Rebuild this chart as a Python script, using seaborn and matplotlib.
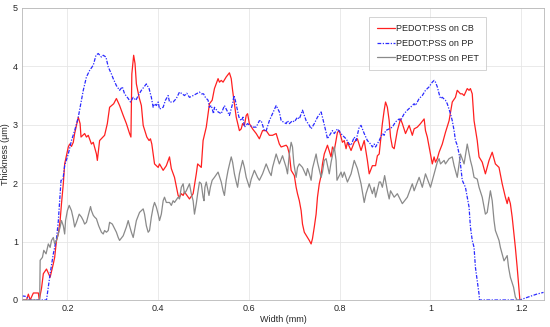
import numpy as np
import pandas as pd
import seaborn as sns
import matplotlib
matplotlib.use("Agg")
import matplotlib.pyplot as plt

# thickness profiles (x in mm, y in um)
cb_x = [0.100, 0.103, 0.110, 0.114, 0.118, 0.125, 0.136, 0.138, 0.143, 0.147, 0.154, 0.162, 0.169, 0.172,
        0.176, 0.180, 0.184, 0.187, 0.191, 0.194, 0.202, 0.205, 0.209, 0.213, 0.216, 0.224, 0.228, 0.230,
        0.238, 0.242, 0.246, 0.253, 0.257, 0.264, 0.266, 0.271, 0.282, 0.288, 0.293, 0.302, 0.308, 0.315,
        0.323, 0.330, 0.337, 0.340, 0.342, 0.346, 0.349, 0.352, 0.358, 0.363, 0.367, 0.375, 0.380, 0.383,
        0.386, 0.392, 0.400, 0.403, 0.411, 0.418, 0.425, 0.429, 0.436, 0.444, 0.447, 0.451, 0.455, 0.458,
        0.469, 0.477, 0.484, 0.487, 0.491, 0.495, 0.499, 0.506, 0.510, 0.513, 0.519, 0.524, 0.532, 0.535,
        0.539, 0.543, 0.550, 0.557, 0.561, 0.564, 0.568, 0.572, 0.579, 0.583, 0.586, 0.590, 0.594, 0.597,
        0.601, 0.608, 0.616, 0.623, 0.630, 0.638, 0.645, 0.652, 0.660, 0.667, 0.671, 0.682, 0.685, 0.689,
        0.693, 0.700, 0.704, 0.707, 0.711, 0.715, 0.718, 0.722, 0.729, 0.733, 0.737, 0.740, 0.744, 0.748,
        0.751, 0.755, 0.759, 0.762, 0.766, 0.773, 0.781, 0.784, 0.788, 0.795, 0.799, 0.806, 0.810, 0.814,
        0.817, 0.825, 0.832, 0.839, 0.847, 0.854, 0.861, 0.865, 0.872, 0.879, 0.883, 0.887, 0.894, 0.898,
        0.901, 0.905, 0.909, 0.912, 0.916, 0.920, 0.927, 0.934, 0.938, 0.945, 0.953, 0.960, 0.964, 0.971,
        0.978, 0.986, 0.989, 0.993, 0.997, 1.004, 1.008, 1.011, 1.015, 1.019, 1.026, 1.033, 1.041, 1.048,
        1.055, 1.059, 1.066, 1.070, 1.074, 1.081, 1.085, 1.088, 1.092, 1.096, 1.103, 1.107, 1.114, 1.121,
        1.129, 1.136, 1.143, 1.151, 1.158, 1.165, 1.169, 1.172, 1.176, 1.180, 1.184, 1.187, 1.191, 1.194,
        1.197, 1.200]
cb_y = [0.00, 0.00, 0.00, 0.10, 0.00, 0.12, 0.12, 0.00, 0.20, 0.45, 0.53, 0.39, 0.62, 0.73,
        1.02, 1.13, 1.36, 1.65, 1.99, 2.33, 2.62, 2.67, 2.63, 2.70, 2.85, 3.13, 3.02, 2.79,
        2.85, 2.79, 2.82, 2.67, 2.70, 2.50, 2.39, 2.73, 2.82, 3.02, 3.30, 3.36, 3.45, 3.33,
        3.16, 3.02, 2.85, 2.79, 3.87, 4.19, 4.05, 3.70, 3.47, 3.33, 2.99, 2.79, 2.73, 2.76,
        2.67, 2.33, 2.27, 2.33, 2.22, 2.30, 2.45, 2.25, 2.10, 1.79, 1.76, 1.82, 1.79, 1.85,
        1.73, 1.82, 2.16, 2.33, 2.30, 2.27, 2.73, 2.96, 3.19, 3.36, 3.42, 3.62, 3.79, 3.73,
        3.76, 3.73, 3.82, 3.89, 3.79, 3.59, 3.36, 3.13, 2.90, 2.93, 3.02, 2.99, 3.16, 3.19,
        3.02, 2.93, 2.85, 2.76, 2.90, 2.90, 2.82, 2.82, 2.85, 2.67, 2.62, 2.65, 2.62, 2.50,
        2.22, 2.13, 1.93, 1.82, 1.70, 1.53, 1.30, 1.16, 1.07, 1.02, 0.96, 1.05, 1.25, 1.47,
        1.76, 1.99, 2.13, 2.33, 2.50, 2.65, 2.45, 2.62, 2.56, 2.87, 2.90, 2.70, 2.73, 2.59,
        2.70, 2.56, 2.70, 2.76, 2.56, 2.73, 2.39, 2.16, 2.30, 2.30, 2.47, 2.50, 3.02, 3.25,
        3.39, 3.30, 3.07, 2.79, 2.62, 2.59, 2.90, 3.10, 3.02, 2.85, 2.99, 2.82, 2.93, 2.96,
        3.02, 3.10, 2.90, 2.79, 2.62, 2.33, 2.45, 2.36, 2.42, 2.53, 2.67, 2.87, 3.07, 3.39,
        3.47, 3.59, 3.53, 3.53, 3.50, 3.62, 3.59, 3.62, 3.53, 3.07, 2.73, 2.45, 2.36, 2.16,
        2.39, 2.53, 2.33, 2.27, 1.99, 1.76, 1.65, 1.76, 1.65, 1.42, 1.13, 0.90, 0.56, 0.27,
        0.00, 0.00]

pp_x = [0.100, 0.110, 0.113, 0.117, 0.154, 0.162, 0.169, 0.176, 0.180, 0.183, 0.186, 0.190, 0.194, 0.202,
        0.209, 0.216, 0.224, 0.228, 0.235, 0.242, 0.249, 0.257, 0.263, 0.268, 0.275, 0.279, 0.285, 0.290,
        0.297, 0.301, 0.308, 0.315, 0.321, 0.326, 0.334, 0.339, 0.345, 0.351, 0.356, 0.363, 0.374, 0.380,
        0.385, 0.389, 0.392, 0.396, 0.400, 0.403, 0.411, 0.416, 0.422, 0.425, 0.433, 0.440, 0.447, 0.453,
        0.458, 0.463, 0.469, 0.477, 0.484, 0.491, 0.495, 0.500, 0.504, 0.510, 0.513, 0.517, 0.522, 0.524,
        0.532, 0.539, 0.546, 0.557, 0.564, 0.567, 0.570, 0.578, 0.583, 0.587, 0.590, 0.597, 0.608, 0.616,
        0.623, 0.627, 0.634, 0.638, 0.645, 0.652, 0.660, 0.667, 0.671, 0.682, 0.685, 0.689, 0.696, 0.700,
        0.707, 0.711, 0.718, 0.726, 0.733, 0.737, 0.744, 0.751, 0.759, 0.762, 0.770, 0.773, 0.784, 0.788,
        0.795, 0.806, 0.814, 0.821, 0.825, 0.832, 0.836, 0.843, 0.847, 0.854, 0.861, 0.868, 0.872, 0.876,
        0.879, 0.887, 0.894, 0.898, 0.901, 0.909, 0.916, 0.923, 0.931, 0.934, 0.942, 0.949, 0.956, 0.964,
        0.967, 0.975, 0.982, 0.989, 0.997, 1.004, 1.008, 1.011, 1.015, 1.019, 1.022, 1.026, 1.033, 1.037,
        1.044, 1.048, 1.052, 1.055, 1.059, 1.063, 1.066, 1.070, 1.077, 1.081, 1.085, 1.088, 1.092, 1.096,
        1.099, 1.103, 1.107, 1.108, 1.197, 1.215, 1.234, 1.249]
pp_y = [0.07, 0.06, 0.03, 0.00, 0.00, 0.45, 0.79, 1.05, 1.35, 1.70, 2.05, 2.05, 2.30, 2.50,
        2.73, 2.90, 3.13, 3.30, 3.59, 3.82, 3.93, 4.02, 4.19, 4.22, 4.16, 4.19, 4.16, 3.99,
        3.87, 3.79, 3.67, 3.59, 3.65, 3.53, 3.45, 3.39, 3.47, 3.42, 3.50, 3.59, 3.70, 3.62,
        3.47, 3.30, 3.36, 3.33, 3.39, 3.27, 3.30, 3.42, 3.50, 3.39, 3.39, 3.45, 3.56, 3.53,
        3.50, 3.54, 3.47, 3.50, 3.53, 3.56, 3.53, 3.53, 3.47, 3.42, 3.30, 3.33, 3.19, 3.30,
        3.22, 3.19, 3.33, 3.16, 3.36, 3.50, 3.42, 3.13, 3.07, 3.13, 2.96, 3.02, 2.96, 2.96,
        3.07, 3.07, 2.90, 2.90, 3.07, 3.19, 3.33, 3.22, 3.07, 3.02, 3.07, 3.02, 3.07, 3.05,
        3.13, 3.10, 3.25, 3.07, 2.99, 2.93, 3.02, 3.13, 3.22, 3.13, 2.87, 2.76, 2.90, 2.85,
        2.93, 2.82, 2.76, 2.67, 2.65, 2.79, 2.73, 2.96, 2.99, 2.85, 2.73, 2.67, 2.62, 2.67,
        2.62, 2.73, 2.85, 2.82, 2.90, 2.93, 2.96, 3.05, 3.10, 3.07, 3.19, 3.25, 3.30, 3.36,
        3.33, 3.45, 3.50, 3.59, 3.65, 3.73, 3.76, 3.73, 3.65, 3.53, 3.45, 3.47, 3.42, 3.36,
        3.19, 3.07, 2.90, 2.73, 2.65, 2.50, 2.33, 2.05, 1.93, 1.76, 1.59, 1.25, 1.02, 0.90,
        0.56, 0.33, 0.10, 0.00, 0.00, 0.05, 0.10, 0.13]

pet_x = [0.100, 0.139, 0.140, 0.145, 0.148, 0.153, 0.158, 0.162, 0.165, 0.169, 0.172, 0.176, 0.180, 0.184,
         0.187, 0.191, 0.194, 0.196, 0.200, 0.204, 0.209, 0.213, 0.216, 0.220, 0.226, 0.231, 0.235, 0.238,
         0.242, 0.246, 0.251, 0.253, 0.257, 0.260, 0.264, 0.269, 0.275, 0.279, 0.282, 0.286, 0.290, 0.293,
         0.299, 0.304, 0.308, 0.312, 0.315, 0.323, 0.330, 0.334, 0.337, 0.341, 0.345, 0.352, 0.359, 0.367,
         0.370, 0.374, 0.378, 0.381, 0.385, 0.389, 0.392, 0.396, 0.400, 0.403, 0.407, 0.411, 0.414, 0.418,
         0.425, 0.429, 0.433, 0.436, 0.444, 0.447, 0.451, 0.455, 0.458, 0.462, 0.469, 0.473, 0.477, 0.480,
         0.484, 0.487, 0.491, 0.495, 0.499, 0.501, 0.503, 0.506, 0.510, 0.512, 0.515, 0.519, 0.524, 0.532,
         0.539, 0.543, 0.546, 0.550, 0.554, 0.561, 0.564, 0.568, 0.572, 0.575, 0.579, 0.586, 0.590, 0.594,
         0.601, 0.605, 0.612, 0.619, 0.623, 0.630, 0.638, 0.645, 0.649, 0.652, 0.660, 0.667, 0.674, 0.682,
         0.685, 0.689, 0.693, 0.696, 0.699, 0.704, 0.707, 0.711, 0.718, 0.726, 0.729, 0.733, 0.737, 0.740,
         0.748, 0.751, 0.759, 0.762, 0.766, 0.770, 0.777, 0.781, 0.788, 0.792, 0.794, 0.799, 0.803, 0.806,
         0.810, 0.817, 0.825, 0.832, 0.839, 0.847, 0.854, 0.858, 0.865, 0.872, 0.876, 0.879, 0.887, 0.890,
         0.894, 0.899, 0.905, 0.909, 0.912, 0.920, 0.927, 0.938, 0.949, 0.960, 0.964, 0.975, 0.982, 0.989,
         1.000, 1.008, 1.015, 1.019, 1.022, 1.030, 1.033, 1.041, 1.048, 1.052, 1.059, 1.066, 1.074, 1.081,
         1.088, 1.092, 1.096, 1.103, 1.107, 1.114, 1.121, 1.125, 1.132, 1.136, 1.140, 1.143, 1.151, 1.154,
         1.162, 1.169, 1.172, 1.176, 1.183, 1.187, 1.191, 1.200]
pet_y = [0.00, 0.00, 0.68, 0.73, 0.85, 0.79, 0.96, 0.90, 1.02, 1.07, 0.96, 1.02, 1.13, 1.25,
         1.36, 1.27, 1.13, 1.36, 1.53, 1.62, 1.53, 1.39, 1.25, 1.33, 1.47, 1.42, 1.36, 1.30,
         1.33, 1.45, 1.60, 1.53, 1.45, 1.42, 1.39, 1.27, 1.16, 1.13, 1.19, 1.16, 1.19, 1.33,
         1.30, 1.22, 1.16, 1.07, 1.02, 1.10, 1.25, 1.36, 1.27, 1.16, 1.07, 1.36, 1.50, 1.56,
         1.47, 1.27, 1.16, 1.19, 1.42, 1.59, 1.67, 1.59, 1.47, 1.36, 1.47, 1.70, 1.76, 1.67,
         1.67, 1.62, 1.70, 1.67, 1.76, 1.73, 1.93, 1.99, 1.82, 1.87, 1.99, 1.82, 1.70, 1.47,
         1.65, 1.82, 2.02, 1.99, 1.76, 1.70, 1.93, 2.02, 1.87, 1.79, 1.93, 2.05, 2.10, 2.19,
         2.02, 1.87, 1.79, 2.05, 2.22, 2.45, 2.36, 2.16, 2.02, 1.93, 2.16, 2.39, 2.27, 2.10,
         1.93, 2.07, 2.22, 2.10, 2.05, 2.16, 2.33, 2.19, 2.13, 2.27, 2.50, 2.33, 2.47, 2.27,
         2.16, 2.50, 2.70, 2.62, 2.33, 2.10, 2.27, 2.33, 2.27, 2.13, 2.25, 2.16, 2.05, 2.25,
         2.50, 2.36, 2.10, 2.19, 2.39, 2.42, 2.16, 2.36, 2.62, 2.39, 2.05, 2.13, 2.19, 2.10,
         2.19, 2.02, 2.16, 2.39, 2.25, 1.99, 1.67, 1.82, 1.99, 1.82, 1.93, 1.76, 2.02, 2.02,
         1.93, 2.13, 1.87, 1.73, 1.87, 1.76, 1.82, 1.65, 1.76, 1.99, 1.87, 2.10, 1.93, 2.16,
         1.93, 2.16, 2.36, 2.42, 2.33, 2.39, 2.33, 2.42, 2.45, 2.30, 2.10, 2.50, 2.33, 2.67,
         2.39, 2.27, 2.10, 2.07, 1.93, 1.76, 1.47, 1.50, 1.87, 1.70, 1.36, 1.19, 1.02, 0.90,
         0.67, 0.76, 0.56, 0.39, 0.22, 0.05, 0.00, 0.00]

series_names = ["PEDOT:PSS on CB", "PEDOT:PSS on PP", "PEDOT:PSS on PET"]

df = pd.concat([
    pd.DataFrame({"width": cb_x, "thickness": cb_y, "sample": series_names[0]}),
    pd.DataFrame({"width": pp_x, "thickness": pp_y, "sample": series_names[1]}),
    pd.DataFrame({"width": pet_x, "thickness": pet_y, "sample": series_names[2]}),
])

sns.set_style("whitegrid")
plt.rcParams["font.family"] = ["Liberation Sans", "DejaVu Sans"]

fig = plt.figure(figsize=(5.5, 3.27), dpi=100)
ax = fig.add_axes([0.04, 0.0826, 0.949, 0.893])

palette = {series_names[0]: "#ff2020", series_names[1]: "#2a2aff", series_names[2]: "#8a8a8a"}
dashes = {series_names[0]: "", series_names[1]: (3, 1.2, 1, 1.2), series_names[2]: ""}
sns.lineplot(data=df, x="width", y="thickness", hue="sample", style="sample",
             palette=palette, dashes=dashes, estimator=None, sort=False,
             linewidth=0.9, ax=ax)

ax.set_xlim(0.1, 1.25)
ax.set_ylim(0, 5)
ax.set_xticks([0.2, 0.4, 0.6, 0.8, 1.0, 1.2])
ax.set_xticklabels(["0.2", "0.4", "0.6", "0.8", "1", "1.2"])
ax.set_yticks([0, 1, 2, 3, 4, 5])
ax.tick_params(labelsize=6.5, length=2, direction="in", pad=3, colors="#262626")
ax.grid(True, color="#e6e6e6", linewidth=0.6)
for s in ax.spines.values():
    s.set_visible(True)
    s.set_color("#b8b8b8")
    s.set_linewidth(0.6)
ax.set_xlabel("Width (mm)", fontsize=6.5, labelpad=1)
ax.set_ylabel("Thickness (\u03bcm)", fontsize=6.5, labelpad=2)

leg = ax.legend(loc="upper left", bbox_to_anchor=(0.657, 0.986), fontsize=6.5,
                frameon=True, fancybox=False, handlelength=2.0, handletextpad=0.1,
                labelspacing=0.65, borderpad=0.8, edgecolor="#c0c0c0")
leg.get_frame().set_linewidth(0.6)

fig.savefig("out.png", dpi=100, facecolor="white")
